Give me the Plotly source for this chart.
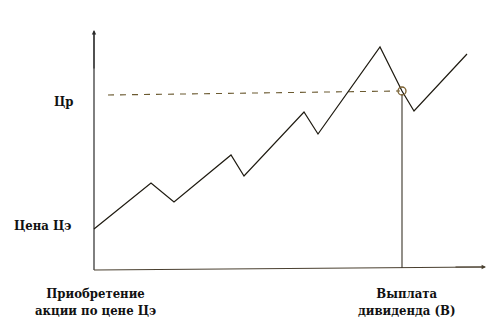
import plotly.graph_objects as go

# Price path (time since purchase, price level)
t = [0, 57, 80, 137, 150, 210, 224, 286, 308, 320, 373]
price = [41, 87, 68, 115, 94, 158, 136, 223, 179, 159, 216]

# Key levels / moments
t_buy = 0
t_div = 308
p_buy = 41
p_div = 179

# Axis labels
y_labels = ["Цена Цэ", "Цр"]
x_labels = ["Приобретение<br>акции по цене Цэ", "Выплата<br>дивиденда (В)"]

fig = go.Figure()

# axes lines
fig.add_trace(go.Scatter(x=[0, 0], y=[0, 238], mode="lines",
                         line=dict(color="#2a2a2a", width=1.2), hoverinfo="skip"))
fig.add_trace(go.Scatter(x=[0, 389], y=[0, 3], mode="lines",
                         line=dict(color="#4a4030", width=1.2), hoverinfo="skip"))

# dashed level line Цр
fig.add_trace(go.Scatter(x=[14, t_div - 2], y=[175, p_div], mode="lines",
                         line=dict(color="#6b5a30", width=1.1, dash="6px,6px"), hoverinfo="skip"))
# vertical line at dividend date
fig.add_trace(go.Scatter(x=[t_div, t_div], y=[p_div - 3, 2], mode="lines",
                         line=dict(color="#3a3428", width=1.1), hoverinfo="skip"))

# price path
fig.add_trace(go.Scatter(x=t, y=price, mode="lines",
                         line=dict(color="#1e1a10", width=1.2), hoverinfo="skip"))

# circle at dividend point
fig.add_trace(go.Scatter(x=[t_div], y=[p_div], mode="markers",
                         marker=dict(size=8, color="rgba(0,0,0,0)",
                                     line=dict(color="#7a6030", width=1.3)),
                         hoverinfo="skip"))

font = dict(family="DejaVu Serif Condensed, DejaVu Serif", size=13, color="#111")
ann = []
# arrowheads
ann.append(dict(x=0, y=240, ax=0, ay=200, xref="x", yref="y", axref="x", ayref="y",
                showarrow=True, arrowhead=2, arrowsize=0.8, arrowwidth=1.1,
                arrowcolor="#2a2a2a", text=""))
ann.append(dict(x=392, y=3, ax=360, ay=3, xref="x", yref="y", axref="x", ayref="y",
                showarrow=True, arrowhead=2, arrowsize=0.8, arrowwidth=1.1,
                arrowcolor="#4a4030", text=""))
# y labels
ann.append(dict(x=-52, y=p_buy + 4, xref="x", yref="y", text="<b>" + y_labels[0] + "</b>",
                showarrow=False, font=font))
ann.append(dict(x=-31, y=169, xref="x", yref="y", text="<b>" + y_labels[1] + "</b>",
                showarrow=False, font=font))
# x labels
ann.append(dict(x=t_buy + 1, y=-32, xref="x", yref="y", text="<b>" + x_labels[0] + "</b>",
                showarrow=False, font=font, align="center"))
ann.append(dict(x=t_div + 4, y=-32, xref="x", yref="y", text="<b>" + x_labels[1] + "</b>",
                showarrow=False, font=font, align="center"))

fig.update_layout(
    width=496, height=327,
    margin=dict(l=0, r=0, t=0, b=0),
    paper_bgcolor="white", plot_bgcolor="white",
    showlegend=False,
    xaxis=dict(range=[-94, 402], visible=False, fixedrange=True),
    yaxis=dict(range=[-57, 270], visible=False, fixedrange=True),
    annotations=ann,
)

fig.write_html("out.html")
